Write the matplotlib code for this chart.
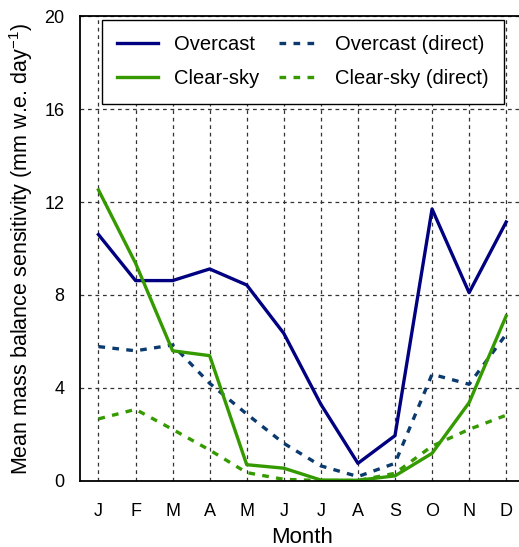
import numpy as np
import matplotlib.pyplot as plt

plt.rcParams['font.family'] = ['Liberation Sans', 'DejaVu Sans']
plt.rcParams['mathtext.default'] = 'regular'

# ---------------- DATA ----------------
months = ["J", "F", "M", "A", "M", "J", "J", "A", "S", "O", "N", "D"]
overcast = [10.6, 8.62, 8.62, 9.12, 8.43, 6.35, 3.3, 0.76, 1.95, 11.7, 8.1, 11.14]
clear_sky = [12.52, 9.37, 5.6, 5.39, 0.7, 0.55, 0.04, 0.03, 0.22, 1.19, 3.37, 7.1]
overcast_direct = [5.78, 5.6, 5.85, 4.2, 2.88, 1.62, 0.65, 0.19, 0.76, 4.59, 4.16, 6.31]
clear_sky_direct = [2.67, 3.08, 2.22, 1.33, 0.36, 0.07, 0.02, 0.02, 0.33, 1.5, 2.22, 2.83]

navy = "#000080"
green = "#349a00"
dblue = "#0a3a6e"

x = np.arange(1, 13)

fig = plt.figure(figsize=(5.19, 5.47), dpi=100)
ax = fig.add_axes([0.154, 0.1207, 0.857, 0.85])

ax.plot(x, overcast, "-", color=navy, lw=2.4, label="Overcast")
ax.plot(x, overcast_direct, color=dblue, lw=2.4, linestyle=(0, (2, 2.2)), label="Overcast (direct)")
ax.plot(x, clear_sky, "-", color=green, lw=2.4, label="Clear-sky")
ax.plot(x, clear_sky_direct, color=green, lw=2.4, linestyle=(0, (2, 2.2)), label="Clear-sky (direct)")

ax.set_xlim(0.5, 12.5)
ax.set_ylim(0, 20)
ax.set_xticks(x)
ax.set_xticklabels(months)
ax.set_yticks([0, 4, 8, 12, 16, 20])
ax.tick_params(length=0, labelsize=13)
ax.tick_params(axis="y", pad=11)
ax.tick_params(axis="x", pad=16)
ax.grid(True, color="#333333", linestyle=(0, (3, 3)), linewidth=0.9)
for s in ax.spines.values():
    s.set_linewidth(1.3)

ax.set_xlabel("Month", fontsize=16, labelpad=5)
ax.set_ylabel("Mean mass balance sensitivity (mm w.e. day$^{-1}$)", fontsize=15.5, labelpad=7)

# legend order: Overcast, Clear-sky | Overcast (direct), Clear-sky (direct)
h, l = ax.get_legend_handles_labels()
order = [0, 2, 1, 3]
leg = ax.legend([h[i] for i in order], [l[i] for i in order], ncol=2, loc="upper left",
                bbox_to_anchor=(0.05, 0.991), borderaxespad=0, fontsize=14.5, handlelength=2.0,
                handletextpad=0.8, columnspacing=1.0, fancybox=False, framealpha=1,
                edgecolor="black", borderpad=0.75, labelspacing=0.75)
leg.get_frame().set_linewidth(1.0)

fig.savefig("out.png", dpi=100)
